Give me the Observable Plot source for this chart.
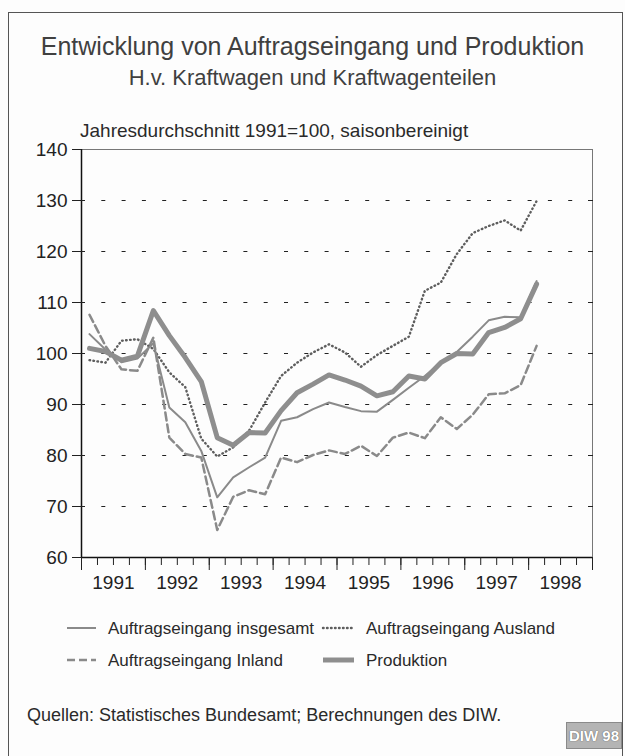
<!DOCTYPE html>
<html><head><meta charset="utf-8">
<script src="https://cdn.jsdelivr.net/npm/d3@7"></script>
<script src="https://cdn.jsdelivr.net/npm/@observablehq/plot@0.6"></script>
<style>
body{margin:0;background:#fff;}
#page{position:relative;width:625px;height:756px;overflow:hidden;font-family:"Liberation Sans",Arial,sans-serif;color:#2a2a2a;background:#fdfdfd}
.t{position:absolute;white-space:nowrap;line-height:1}
#frame{position:absolute;left:8px;top:12px;right:2px;bottom:-10px;border:1.5px solid #555}
#plot{position:absolute;left:0;top:100px}
#logo{position:absolute;left:566px;top:722px;width:54px;height:25px;background:#b4b4b4;border:1px solid #8a8a8a;color:#fff;font:bold 15px "Liberation Sans",Arial,sans-serif;line-height:25px;text-align:center;text-shadow:0 0 1px #666,0 0 1px #666}
</style></head><body><div id="page">
<div id="frame"></div>
<div class="t" style="left:0;width:625px;text-align:center;top:34px;font-size:25px;color:#404040">Entwicklung von Auftragseingang und Produktion</div>
<div class="t" style="left:0;width:625px;text-align:center;top:67px;font-size:22px;color:#404040">H.v. Kraftwagen und Kraftwagenteilen</div>
<div class="t" style="left:80px;top:121px;font-size:19px">Jahresdurchschnitt 1991=100, saisonbereinigt</div>
<div id="plot"></div>
<div id="legend"></div>
<div class="t" style="left:27px;top:706px;font-size:18px">Quellen: Statistisches Bundesamt; Berechnungen des DIW.</div>
<div id="logo">DIW 98</div>
</div>
<script>
// Quarterly periods 1991 I – 1998 I
const quarters = ["1991-1","1991-2","1991-3","1991-4","1992-1","1992-2","1992-3","1992-4",
  "1993-1","1993-2","1993-3","1993-4","1994-1","1994-2","1994-3","1994-4",
  "1995-1","1995-2","1995-3","1995-4","1996-1","1996-2","1996-3","1996-4",
  "1997-1","1997-2","1997-3","1997-4","1998-1"];
const insgesamt = [103.8,100.8,98.3,99.0,102.0,89.4,86.5,80.9,71.8,75.7,77.7,79.6,86.8,87.5,89.1,90.4,89.5,88.7,88.6,90.9,93.3,95.6,98.2,100.3,103.3,106.5,107.2,107.1,114.2];
const produktion = [101.0,100.4,98.7,99.5,108.4,103.5,99.2,94.5,83.5,82.0,84.5,84.4,88.8,92.3,94.0,95.8,94.8,93.6,91.7,92.5,95.6,95.0,98.2,100.0,99.9,104.1,105.1,106.8,113.6];
const inland = [107.6,101.5,96.9,96.6,103.1,83.5,80.3,79.6,65.4,71.9,73.2,72.4,79.6,78.7,80.1,81.0,80.3,81.9,79.9,83.5,84.5,83.4,87.5,85.2,88.0,92.0,92.2,93.8,101.5];
const ausland = [98.7,98.2,102.5,102.8,100.9,96.3,93.4,83.3,79.8,81.6,84.9,90.4,95.6,98.2,100.2,101.8,100.2,97.4,99.7,101.5,103.3,112.3,113.9,119.5,123.6,125.0,126.1,124.1,129.9];
const yTicks = [60,70,80,90,100,110,120,130,140];
const gridValues = [70,80,90,100,110,120,130];
const yearLabels = ["1991","1992","1993","1994","1995","1996","1997","1998"];

const qx = q => { const [y, n] = q.split("-").map(Number); return y + (n - 0.5) / 4; };
const toRows = vals => quarters.map((q, i) => ({x: qx(q), v: vals[i]}));
const yearStarts = yearLabels.map(Number).concat([Number(yearLabels[yearLabels.length-1]) + 1]);
const yearMids = yearLabels.map(y => Number(y) + 0.5);
const quarterTicks = d3.range(yearStarts[0], yearStarts[yearStarts.length-1] + 0.001, 0.25);

const gray = "#8a8a8a";
const dotted = {color: "#5e5e5e", w: 2.4, dash: "0.6,3.4"};
const chart = Plot.plot({
  width: 625, height: 500,
  marginTop: 49, marginBottom: 43, marginLeft: 81, marginRight: 33,
  style: {fontFamily: "Liberation Sans, Arial, sans-serif", fontSize: "19px", color: "#222", background: "transparent", overflow: "visible"},
  x: {domain: [1991, 1999], label: null},
  y: {domain: [60, 140], label: null},
  marks: [
    Plot.ruleY(gridValues, {stroke: "#222", strokeWidth: 1, strokeDasharray: "4,16.3"}),
    Plot.frame({stroke: "#777", strokeWidth: 1}),
    Plot.line(toRows(inland), {x: "x", y: "v", stroke: gray, strokeWidth: 2.5, strokeDasharray: "8,4"}),
    Plot.line(toRows(ausland), {x: "x", y: "v", stroke: dotted.color, strokeWidth: dotted.w, strokeDasharray: dotted.dash, strokeLinecap: "round"}),
    Plot.line(toRows(insgesamt), {x: "x", y: "v", stroke: gray, strokeWidth: 2}),
    Plot.line(toRows(produktion), {x: "x", y: "v", stroke: "#8e8e8e", strokeWidth: 5, strokeLinejoin: "round"}),
    Plot.ruleX([1991], {stroke: "#111", strokeWidth: 1.5}),
    Plot.ruleY([60], {stroke: "#111", strokeWidth: 1.5}),
    Plot.axisY(yTicks, {tickSize: 9, tickPadding: 5, fontSize: 19, label: null}),
    Plot.axisY(gridValues, {tickSize: 3, dx: 3, tickFormat: () => "", label: null}),
    Plot.axisY(gridValues, {anchor: "right", tickSize: 5, dx: -5, tickFormat: () => "", label: null}),
    Plot.axisX(quarterTicks, {tickSize: 8, tickFormat: () => "", label: null}),
    Plot.axisX(yearStarts, {tickSize: 13, tickFormat: () => "", label: null}),
    Plot.axisX(yearMids, {tickSize: 0, tickPadding: 18, fontSize: 19, label: null, tickFormat: (d, i) => yearLabels[i]})
  ]
});
document.getElementById("plot").appendChild(chart);

// Legend
const legendItems = [
  {label: "Auftragseingang insgesamt", col: 0, row: 0, w: 2, dash: null, color: gray, cap: "butt"},
  {label: "Auftragseingang Ausland", col: 1, row: 0, w: dotted.w, dash: dotted.dash, color: dotted.color, cap: "round"},
  {label: "Auftragseingang Inland", col: 0, row: 1, w: 2.5, dash: "8,4", color: gray, cap: "butt"},
  {label: "Produktion", col: 1, row: 1, w: 5, dash: null, color: "#8e8e8e", cap: "butt"}
];
const lg = d3.select("#legend").append("svg")
  .attr("width", 625).attr("height", 80)
  .style("position", "absolute").style("left", "0px").style("top", "600px");
const cols = [{x1: 67, x2: 96, tx: 108}, {x1: 323, x2: 354, tx: 366}];
const rows = [28, 60];
legendItems.forEach(d => {
  const c = cols[d.col], y = rows[d.row];
  lg.append("line").attr("x1", c.x1).attr("x2", c.x2).attr("y1", y).attr("y2", y)
    .attr("stroke", d.color).attr("stroke-width", d.w).attr("stroke-dasharray", d.dash)
    .attr("stroke-linecap", d.cap);
  lg.append("text").attr("x", c.tx).attr("y", y + 6).text(d.label)
    .attr("font-family", "Liberation Sans, Arial, sans-serif").attr("font-size", 17).attr("fill", "#2a2a2a");
});
</script>
</body></html>
